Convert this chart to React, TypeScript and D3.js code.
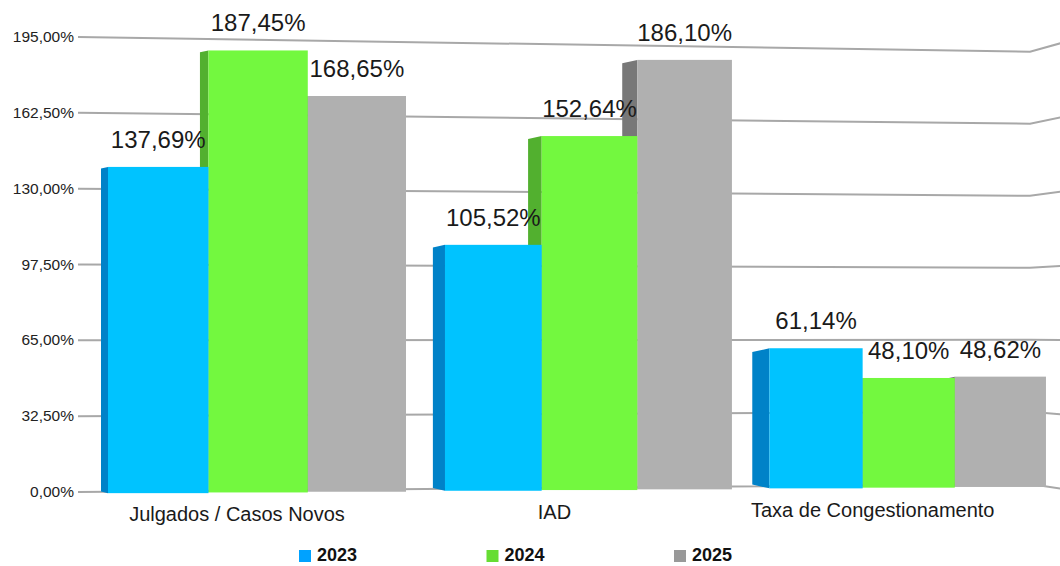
import React from 'react';
import * as d3 from 'd3';

const categories = ['Julgados / Casos Novos', 'IAD', 'Taxa de Congestionamento'];
const seriesNames = ['2023', '2024', '2025'];
const values2023 = [137.69, 105.52, 61.14];
const values2024 = [187.45, 152.64, 48.1];
const values2025 = [168.65, 186.1, 48.62];
const tickValues = [0, 32.5, 65, 97.5, 130, 162.5, 195];

const frontColors = ['#00c3ff', '#73f83f', '#b0b0b0'];
const sideColors = ['#0082c8', '#52b02f', '#787878'];
const legendColors = ['#00a2ff', '#66dd33', '#999999'];

const ptBR = d3.formatLocale({ decimal: ',', thousands: '.', grouping: [3], currency: ['R$', ''] });
const fmt = (v: number) => ptBR.format('.2f')(v) + '%';

const W = 1060;
const H = 566;
const FONT = 'Liberation Sans, Arial, sans-serif';

// flat (unprojected) layout, in bar-width units
const groupBand = d3.scaleBand<string>().domain(categories).range([0, 9.8]).paddingInner(0.4 / 3.4).paddingOuter(0);
const seriesBand = d3.scaleBand<string>().domain(seriesNames).range([0, groupBand.bandwidth()]).padding(0);

// mild perspective: bars shrink as they recede to the right
const projX = (u: number) => 108 + (101.02 * u) / (1 + 0.00566 * u);
const depth = (u: number) => 1 - 0.0048 * u;
const horizon = 347;
const yFlat = d3.scaleLinear().domain([0, 195]).range([493.5, 493.5 - 195 * 2.375]);
const yBar = (v: number, u: number) => horizon + (yFlat(v) - horizon) * depth(u);

// back wall gridlines
const yGrid = d3.scaleLinear().domain([0, 195]).range([492, 37]);
const gridHorizon = 330;
const gridLine = d3.line<[number, number]>();

// category labels sit on the back plane, a bit left of the bar groups
const labelX = d3.scaleLinear().domain([257, 589, 908]).range([237, 555, 873]);

const legendX = d3.scalePoint<string>().domain(seriesNames).range([299, 674]);

export default function App() {
  const seriesValues = [values2023, values2024, values2025];

  const bars = categories.flatMap((cat, ci) =>
    seriesNames.map((s, si) => {
      const u0 = (groupBand(cat) ?? 0) + (seriesBand(s) ?? 0);
      const u1 = u0 + seriesBand.bandwidth();
      const uc = (u0 + u1) / 2;
      const v = seriesValues[si][ci];
      const x0 = projX(u0);
      const x1 = projX(u1);
      const top = yBar(v, uc);
      const base = yBar(0, uc);
      const w = 7 + u0 * 1.5;
      const dy = w * 0.22;
      return { key: `${ci}-${si}`, ci, si, v, x0, x1, top, base, w, dy };
    })
  );

  return (
    <svg width={W} height={H} style={{ position: 'absolute', left: 0, top: 0, background: '#fff' }}>
      <g>
        {tickValues.map((t) => {
          const y = yGrid(t);
          const pts: [number, number][] = [
            [78, y],
            [1030, gridHorizon + (y - gridHorizon) * 0.95],
            [1062, gridHorizon + (y - gridHorizon) * 0.98],
          ];
          return <path key={t} d={gridLine(pts) ?? ''} fill="none" stroke="#a8a8a8" strokeWidth={2} />;
        })}
        {tickValues.map((t) => (
          <text key={t} x={74} y={yGrid(t) + 5} textAnchor="end" fontFamily={FONT} fontSize={15.5} fill="#222">
            {fmt(t)}
          </text>
        ))}
      </g>

      <g>
        {[...bars].reverse().map((b) => (
          <g key={b.key}>
            <polygon
              points={`${b.x0 - b.w},${b.top + b.dy} ${b.x0},${b.top} ${b.x0},${b.base} ${b.x0 - b.w},${b.base - b.dy}`}
              fill={sideColors[b.si]}
            />
            <rect x={b.x0} y={b.top} width={b.x1 - b.x0} height={b.base - b.top} fill={frontColors[b.si]} />
          </g>
        ))}
      </g>

      <g>
        {bars.map((b) => (
          <text
            key={b.key}
            x={(b.x0 + b.x1) / 2}
            y={b.top - 19}
            textAnchor="middle"
            fontFamily={FONT}
            fontSize={24}
            fill="#1a1a1a"
          >
            {fmt(b.v)}
          </text>
        ))}
      </g>

      <g>
        {categories.map((cat) => {
          const u0 = groupBand(cat) ?? 0;
          const uc = u0 + groupBand.bandwidth() / 2;
          const cx = (projX(u0) + projX(u0 + groupBand.bandwidth())) / 2;
          return (
            <text
              key={cat}
              x={labelX(cx)}
              y={yBar(0, uc) + 29}
              textAnchor="middle"
              fontFamily={FONT}
              fontSize={20}
              fill="#1a1a1a"
            >
              {cat}
            </text>
          );
        })}
      </g>

      <g>
        {seriesNames.map((s, i) => (
          <g key={s} transform={`translate(${legendX(s)},0)`}>
            <rect x={0} y={550} width={12} height={12} fill={legendColors[i]} />
            <text x={18} y={561} fontFamily={FONT} fontSize={18} fontWeight="bold" fill="#111">
              {s}
            </text>
          </g>
        ))}
      </g>
    </svg>
  );
}
